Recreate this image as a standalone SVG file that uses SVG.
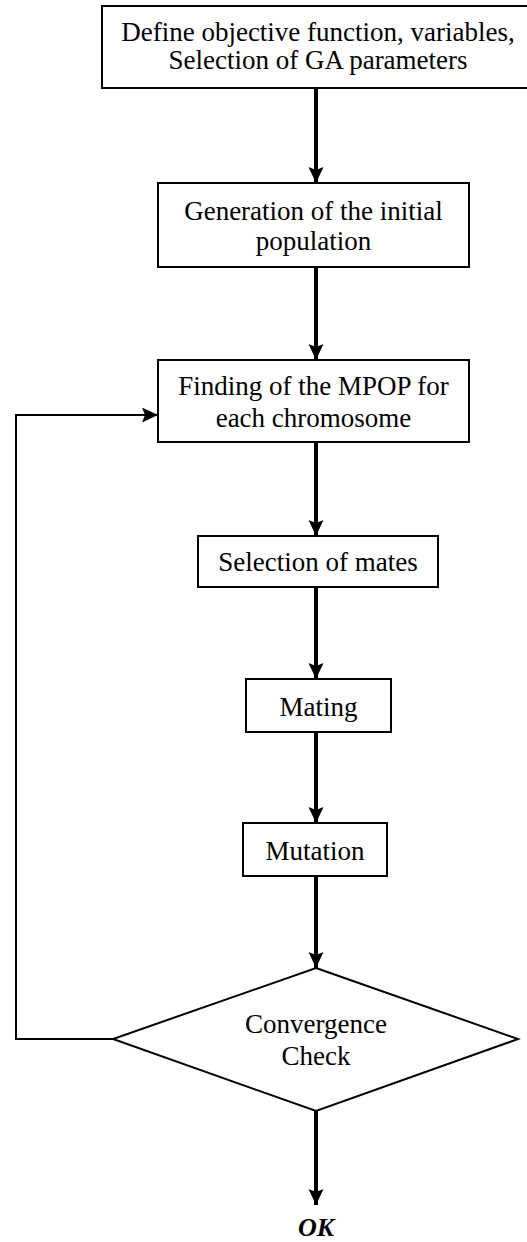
<svg xmlns="http://www.w3.org/2000/svg" width="527" height="1242" viewBox="0 0 527 1242">
<style>
.box{fill:#fff;stroke:#000;stroke-width:2}
.t{font-family:"Liberation Serif","Times New Roman",serif;font-size:27px;fill:#000;text-anchor:middle}
.ok{font-weight:bold;font-style:italic;font-size:26px}
.main{stroke:#000;stroke-width:4;fill:none;marker-end:url(#ah)}
.fb{stroke:#000;stroke-width:2;fill:none;marker-end:url(#ah)}
</style>
<defs>
<marker id="ah" markerUnits="userSpaceOnUse" markerWidth="18" markerHeight="16" refX="16" refY="7.5" orient="auto">
<path d="M0,0 L16,7.5 L0,15 L3,7.5 z" fill="#000"/>
</marker>
</defs>
<rect width="527" height="1242" fill="#fff"/>
<g id="connectors">
<line class="main" x1="316" y1="88" x2="316" y2="183"/>
<line class="main" x1="316" y1="267" x2="316" y2="360"/>
<line class="main" x1="316" y1="442" x2="316" y2="536"/>
<line class="main" x1="316" y1="587" x2="316" y2="679"/>
<line class="main" x1="316" y1="732" x2="316" y2="823"/>
<line class="main" x1="316" y1="876" x2="316" y2="968"/>
<line class="main" x1="316" y1="1111" x2="316" y2="1205"/>
<polyline class="fb" points="113,1039 16,1039 16,415 158,415"/>
</g>
<g id="n1">
<rect class="box" x="102" y="6" width="430" height="82"/>
<text class="t" x="318" y="41">Define objective function, variables,</text>
<text class="t" x="318" y="69">Selection of GA parameters</text>
</g>
<g id="n2">
<rect class="box" x="158" y="183" width="311" height="84"/>
<text class="t" x="313.5" y="220">Generation of the initial</text>
<text class="t" x="313.5" y="250">population</text>
</g>
<g id="n3">
<rect class="box" x="158" y="360" width="311" height="82"/>
<text class="t" x="313.5" y="395">Finding of the MPOP for</text>
<text class="t" x="313.5" y="427">each chromosome</text>
</g>
<g id="n4">
<rect class="box" x="198" y="536" width="240" height="51"/>
<text class="t" x="318" y="571">Selection of mates</text>
</g>
<g id="n5">
<rect class="box" x="246" y="679" width="145" height="53"/>
<text class="t" x="318.5" y="716">Mating</text>
</g>
<g id="n6">
<rect class="box" x="243" y="823" width="144" height="53"/>
<text class="t" x="315" y="860">Mutation</text>
</g>
<g id="n7">
<polygon class="box" points="316,968 518,1039 316,1111 113,1039"/>
<text class="t" x="316" y="1033">Convergence</text>
<text class="t" x="316" y="1065">Check</text>
</g>
<g id="n8">
<text class="t ok" x="316" y="1236">OK</text>
</g>
</svg>
